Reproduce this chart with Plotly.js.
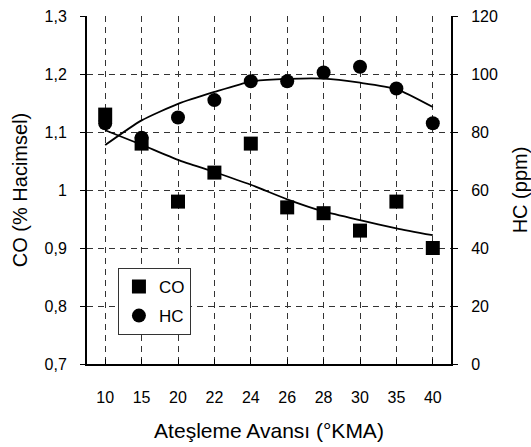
<!DOCTYPE html>
<html>
<head>
<meta charset="utf-8">
<script src="https://cdn.plot.ly/plotly-3.0.1.min.js"></script>
<style>html,body{margin:0;padding:0;background:#fff}#chart{width:531px;height:447px}</style>
</head>
<body>
<div id="chart"></div>
<script>
const categories = ["10","15","20","22","24","26","28","30","35","40"];
const coValues = [1.13,1.08,0.98,1.03,1.08,0.97,0.96,0.93,0.98,0.90];
const hcValues = [83,78,85,91,97.5,97.5,100.5,102.5,95,83];
const coTrend = [1.103,1.078,1.052,1.031,1.009,0.984,0.963,0.948,0.934,0.922];
const hcTrend = [75.5,84,89.7,93.8,97.4,98.3,98.4,97.0,94.8,88.6];
const coTicks = [0.7,0.8,0.9,1.0,1.1,1.2,1.3];
const hcTicks = [0,20,40,60,80,100,120];

const FONT = "Liberation Sans, Arial, sans-serif";
const GRIDDASH = "6px,5px";
const traces = [
  {x: categories, y: coTrend, type: "scatter", mode: "lines", line: {color: "#000", width: 1.8, shape: "spline", smoothing: 0.6}, showlegend: false, hoverinfo: "skip"},
  {x: categories, y: hcTrend, type: "scatter", mode: "lines", yaxis: "y2", line: {color: "#000", width: 1.8, shape: "spline", smoothing: 0.6}, showlegend: false, hoverinfo: "skip"},
  {x: categories, y: coValues, name: "CO", type: "scatter", mode: "markers", marker: {symbol: "square", size: 14, color: "#000"}, legendgroup: "a"},
  {x: categories, y: hcValues, name: "HC", type: "scatter", mode: "markers", yaxis: "y2", marker: {symbol: "circle", size: 14, color: "#000"}, legendgroup: "b"}
];

const layout = {
  width: 531, height: 447,
  margin: {l: 87, r: 80, t: 16, b: 83},
  paper_bgcolor: "#fff", plot_bgcolor: "#fff",
  separators: ",.",
  font: {family: FONT, size: 16, color: "#000"},
  showlegend: true,
  legend: {x: 0.085, y: 0.276, xanchor: "left", yanchor: "top", bordercolor: "#333", borderwidth: 1, bgcolor: "#fff",
           font: {family: FONT, size: 17}, traceorder: "grouped", tracegroupgap: 4, itemwidth: 30},
  xaxis: {type: "category", categoryorder: "array", categoryarray: categories, range: [-0.5, 9.5],
          showgrid: true, gridcolor: "#333", griddash: GRIDDASH, gridwidth: 1,
          showline: true, linecolor: "#000", linewidth: 2, ticks: "inside", ticklen: 5, tickcolor: "#000",
          tickfont: {family: FONT, size: 16}, ticklabelstandoff: 18, zeroline: false, fixedrange: true,
          title: {text: "Ateşleme Avansı (°KMA)", font: {family: FONT, size: 21}, standoff: 18}},
  xaxis2: {type: "category", overlaying: "x", side: "bottom", categoryorder: "array", categoryarray: categories,
           range: [-0.5, 9.5], tickson: "boundaries", ticks: "inside", ticklen: 5, tickcolor: "#000",
           showticklabels: false, showgrid: false, showline: false, zeroline: false,
           tickvals: categories},
  yaxis: {range: [0.7, 1.3], tickvals: coTicks, showgrid: true, gridcolor: "#333", griddash: GRIDDASH, gridwidth: 1,
          showline: true, linecolor: "#000", linewidth: 2, ticks: "outside", ticklen: 5, tickcolor: "#000",
          tickfont: {family: FONT, size: 16}, ticklabelstandoff: 10, zeroline: false, fixedrange: true,
          title: {text: "CO (% Hacimsel)", font: {family: FONT, size: 20}, standoff: 12}},
  yaxis2: {range: [0, 120], tickvals: hcTicks, overlaying: "y", side: "right", showgrid: false,
           showline: true, linecolor: "#000", linewidth: 2, ticks: "outside", ticklen: 5, tickcolor: "#000",
           tickfont: {family: FONT, size: 16}, ticklabelstandoff: 10, zeroline: false, fixedrange: true,
           title: {text: "HC (ppm)", font: {family: FONT, size: 20}, standoff: 16}}
};

Plotly.newPlot("chart", traces, layout, {staticPlot: true, displayModeBar: false});
</script>
</body>
</html>
